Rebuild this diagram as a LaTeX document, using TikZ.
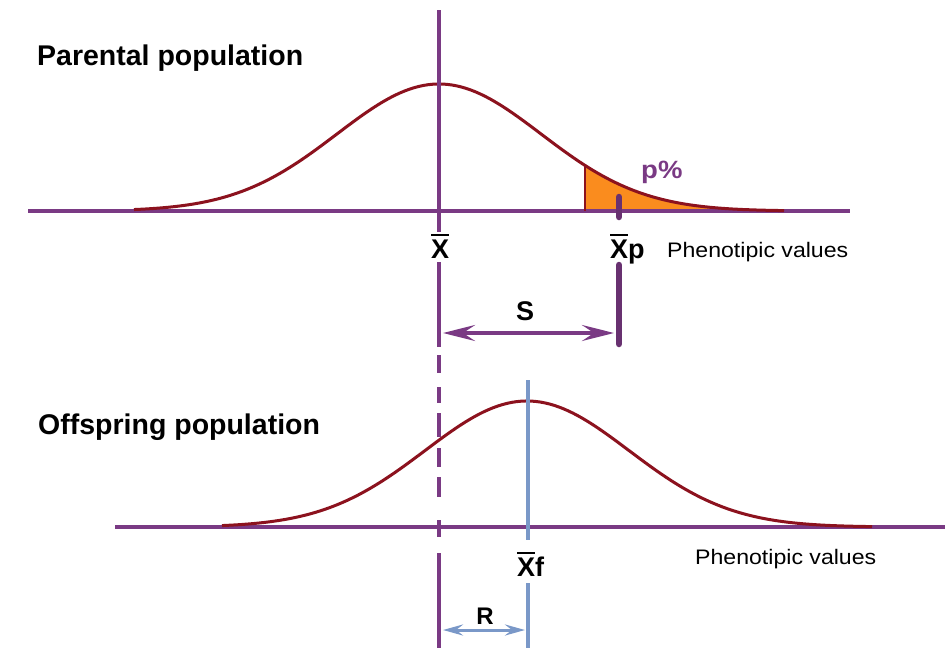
\documentclass[tikz,border=0pt]{standalone}
\usepackage{fontspec}
\setmainfont{Liberation Sans}
\newfontfamily\stretchfont[FakeStretch=1.1]{Liberation Sans}
\usetikzlibrary{arrows.meta}
\definecolor{axispurple}{RGB}{122,58,132}
\definecolor{curvered}{RGB}{140,18,30}
\definecolor{meanblue}{RGB}{122,152,200}
\definecolor{tailorange}{RGB}{250,140,30}
\newcommand{\barX}{\setbox0\hbox{\bfseries X}\rlap{\rule[\dimexpr\ht0+3pt\relax]{\wd0}{2.8pt}}\box0}
\begin{document}
\begin{tikzpicture}[x=1pt,y=-1pt,
  axisline/.style={axispurple,line width=3.5pt},
  meanline/.style={axispurple,line width=4pt},
  curveline/.style={curvered,line width=3pt},
  blueline/.style={meanblue,line width=3.5pt},
  title/.style={font=\fontsize{28.5}{30}\selectfont\bfseries, anchor=base west, inner sep=0pt},
  lbl/.style={font=\fontsize{27}{29}\selectfont\bfseries, anchor=base, inner sep=0pt},
  pheno/.style={font=\stretchfont\fontsize{21}{23}\selectfont, anchor=base west, inner sep=0pt},
]
\useasboundingbox (0,0) rectangle (947,648);
\fill[white] (0,0) rectangle (947,648);

% ---------- Parental population ----------
\fill[tailorange] (585,211) -- plot[domain=146:345,samples=60] ({439+\x},{211-127*exp(-0.5*(\x/102)*(\x/102))}) -- cycle;
\coordinate (pa1) at (28,211);
\coordinate (pa2) at (850,211);
\draw[axisline] (pa1) -- (pa2);
\draw[curveline] plot[domain=-305:345,samples=140] ({439+\x},{211-127*exp(-0.5*(\x/102)*(\x/102))});
\coordinate (oe1) at (585,211);
\coordinate (oe2) at (585,164);
\draw[curvered,line width=2.5pt] (oe1) -- (oe2);

% parental mean line
\coordinate (m1) at (439,10);
\coordinate (m2) at (439,232);
\coordinate (m3) at (439,262);
\coordinate (m4) at (439,347);
\draw[meanline] (m1) -- (m2);
\draw[meanline] (m3) -- (m4);
\foreach \a/\b in {355/373,387/403,413/437,448/467,477/497,520/537}{
  \draw[meanline] (439,\a) -- (439,\b);
}
\coordinate (m5) at (439,553);
\coordinate (m6) at (439,648);
\draw[meanline] (m5) -- (m6);

% selected mean bar
\coordinate (xp1) at (619,197);
\coordinate (xp2) at (619,217);
\coordinate (xp3) at (619,265);
\coordinate (xp4) at (619,344);
\draw[axispurple!85!black,line width=6.5pt,line cap=round] (xp1) -- (xp2);
\draw[axispurple!85!black,line width=6.5pt,line cap=round] (xp3) -- (xp4);

% S arrow
\coordinate (sL) at (443,333);
\coordinate (sR) at (614,333);
\draw[axispurple,line width=4pt,{Stealth[length=32pt,width=16pt,inset=12pt]}-{Stealth[length=32pt,width=16pt,inset=12pt]}] (sL) -- (sR);

% ---------- Offspring population ----------
\coordinate (oa1) at (115,527);
\coordinate (oa2) at (945,527);
\draw[axisline] (oa1) -- (oa2);
\draw[curveline] plot[domain=-305:345,samples=140] ({527+\x},{527-126*exp(-0.5*(\x/102)*(\x/102))});

\coordinate (b1) at (528,380);
\coordinate (b2) at (528,540);
\coordinate (b3) at (528,583);
\coordinate (b4) at (528,648);
\draw[blueline] (b1) -- (b2);
\draw[blueline] (b3) -- (b4);

% R arrow
\coordinate (rL) at (443,630);
\coordinate (rR) at (525,630);
\draw[meanblue,line width=3pt,{Stealth[length=20pt,width=11pt,inset=7pt]}-{Stealth[length=20pt,width=11pt,inset=7pt]}] (rL) -- (rR);

% ---------- Labels ----------
\node[title] (t1) at (37,65) {Parental population};
\node[title] (t2) at (38,434) {Offspring population};
\node[lbl] (xbar) at (440,258) {\barX};
\node[lbl,anchor=base west] (xp) at (610,258) {\barX p};
\node[pheno] (ph1) at (667,257) {Phenotipic values};
\node[font=\stretchfont\fontsize{25}{27}\selectfont\bfseries, text=axispurple, anchor=base west, inner sep=0pt] (pp) at (641,178) {p\%};
\node[lbl] (s) at (525,320) {S};
\node[lbl,anchor=base west] (xf) at (517,576) {\barX f};
\node[pheno] (ph2) at (695,564) {Phenotipic values};
\node[lbl,font=\fontsize{24}{26}\selectfont\bfseries] (r) at (485,624) {R};
\end{tikzpicture}
\end{document}
